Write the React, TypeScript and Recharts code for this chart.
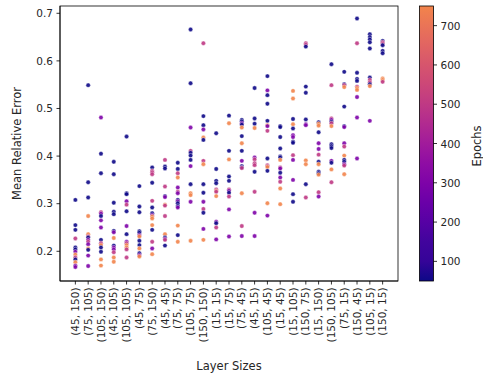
import React from 'react';
import { ScatterChart, Scatter, XAxis, YAxis } from 'recharts';

const layerSizes: string[] = [
  '(45, 150)', '(75, 105)', '(105, 150)', '(45, 105)', '(105, 105)', '(45, 75)', '(75, 150)',
  '(45, 45)', '(75, 75)', '(105, 75)', '(150, 150)', '(15, 15)', '(15, 75)', '(75, 45)',
  '(45, 15)', '(105, 45)', '(15, 45)', '(15, 105)', '(150, 75)', '(15, 150)', '(150, 105)',
  '(75, 15)', '(150, 45)', '(105, 15)', '(150, 15)',
];

const errors: number[][] = [
  [0.308, 0.255, 0.245, 0.227, 0.208, 0.204, 0.199, 0.193, 0.187, 0.183, 0.177, 0.170, 0.167],
  [0.549, 0.345, 0.313, 0.274, 0.236, 0.231, 0.229, 0.224, 0.220, 0.215, 0.206, 0.203, 0.191, 0.169],
  [0.481, 0.405, 0.364, 0.282, 0.279, 0.274, 0.265, 0.250, 0.224, 0.217, 0.213, 0.208, 0.199, 0.183, 0.170],
  [0.388, 0.362, 0.302, 0.283, 0.278, 0.243, 0.240, 0.228, 0.212, 0.208, 0.204, 0.198, 0.187, 0.178],
  [0.441, 0.322, 0.320, 0.305, 0.298, 0.284, 0.253, 0.236, 0.220, 0.217, 0.213, 0.208, 0.204, 0.187],
  [0.337, 0.294, 0.282, 0.242, 0.239, 0.234, 0.231, 0.222, 0.213, 0.206, 0.196, 0.192, 0.189],
  [0.376, 0.369, 0.366, 0.362, 0.344, 0.306, 0.292, 0.280, 0.276, 0.273, 0.269, 0.255, 0.245, 0.220, 0.206, 0.194],
  [0.392, 0.378, 0.374, 0.336, 0.316, 0.314, 0.298, 0.296, 0.274, 0.236, 0.229, 0.226, 0.224, 0.212],
  [0.386, 0.373, 0.364, 0.355, 0.334, 0.325, 0.322, 0.308, 0.305, 0.301, 0.295, 0.292, 0.254, 0.234, 0.220],
  [0.666, 0.553, 0.460, 0.411, 0.407, 0.401, 0.392, 0.379, 0.341, 0.322, 0.318, 0.304, 0.222],
  [0.637, 0.484, 0.465, 0.456, 0.439, 0.434, 0.390, 0.383, 0.341, 0.323, 0.304, 0.289, 0.281, 0.247, 0.224],
  [0.448, 0.373, 0.348, 0.343, 0.330, 0.327, 0.325, 0.316, 0.262, 0.259, 0.250, 0.225],
  [0.485, 0.469, 0.411, 0.393, 0.357, 0.348, 0.330, 0.327, 0.323, 0.315, 0.288, 0.231],
  [0.476, 0.473, 0.469, 0.466, 0.460, 0.442, 0.427, 0.411, 0.390, 0.379, 0.376, 0.375, 0.322, 0.253, 0.232],
  [0.543, 0.479, 0.468, 0.459, 0.397, 0.393, 0.385, 0.381, 0.367, 0.325, 0.281, 0.232],
  [0.568, 0.538, 0.528, 0.510, 0.474, 0.465, 0.463, 0.453, 0.395, 0.381, 0.379, 0.377, 0.369, 0.301, 0.275],
  [0.463, 0.461, 0.440, 0.416, 0.399, 0.397, 0.392, 0.376, 0.374, 0.365, 0.355, 0.346, 0.332, 0.299],
  [0.537, 0.521, 0.478, 0.467, 0.458, 0.444, 0.440, 0.430, 0.428, 0.402, 0.392, 0.350, 0.320, 0.304],
  [0.637, 0.634, 0.630, 0.546, 0.533, 0.477, 0.467, 0.465, 0.391, 0.383, 0.341, 0.313],
  [0.471, 0.468, 0.464, 0.450, 0.427, 0.415, 0.403, 0.388, 0.383, 0.367, 0.364, 0.361, 0.324, 0.315],
  [0.593, 0.549, 0.479, 0.476, 0.472, 0.469, 0.463, 0.425, 0.421, 0.417, 0.390, 0.386, 0.372, 0.345],
  [0.577, 0.551, 0.549, 0.545, 0.504, 0.463, 0.461, 0.427, 0.420, 0.401, 0.392, 0.388, 0.383, 0.380, 0.362],
  [0.689, 0.637, 0.575, 0.562, 0.558, 0.546, 0.543, 0.539, 0.524, 0.481, 0.395],
  [0.656, 0.650, 0.645, 0.639, 0.626, 0.565, 0.560, 0.555, 0.551, 0.547, 0.474],
  [0.642, 0.639, 0.636, 0.633, 0.621, 0.616, 0.563, 0.560, 0.556],
];

const epochs: number[][] = [
  [50, 50, 50, 500, 50, 50, 300, 750, 500, 50, 750, 300, 300],
  [50, 50, 50, 750, 750, 500, 50, 300, 500, 300, 750, 50, 300, 300],
  [300, 50, 50, 500, 300, 50, 300, 300, 50, 500, 750, 50, 50, 750, 750],
  [50, 50, 50, 50, 50, 50, 300, 750, 50, 300, 300, 500, 750, 750],
  [50, 50, 50, 300, 500, 50, 300, 50, 300, 500, 750, 750, 500, 500],
  [50, 50, 50, 50, 50, 300, 750, 50, 50, 750, 50, 300, 750],
  [50, 500, 500, 500, 50, 500, 50, 50, 300, 750, 750, 750, 50, 500, 300, 750],
  [500, 50, 50, 500, 50, 300, 750, 500, 500, 750, 50, 300, 500, 50],
  [50, 50, 500, 750, 300, 500, 300, 50, 300, 50, 50, 300, 750, 50, 750],
  [50, 50, 300, 500, 50, 50, 50, 300, 50, 750, 750, 300, 750],
  [500, 50, 50, 300, 750, 50, 500, 750, 50, 50, 300, 500, 50, 300, 750],
  [50, 50, 50, 50, 500, 750, 500, 750, 300, 50, 500, 300],
  [50, 750, 50, 750, 50, 50, 500, 300, 50, 500, 300, 300],
  [50, 50, 300, 50, 750, 50, 750, 50, 300, 50, 50, 500, 750, 500, 300],
  [50, 50, 50, 750, 300, 500, 500, 500, 50, 500, 300, 300],
  [50, 300, 50, 50, 50, 750, 300, 500, 50, 500, 500, 750, 50, 750, 300],
  [50, 50, 50, 50, 50, 50, 750, 500, 300, 50, 300, 500, 750, 750],
  [750, 750, 50, 750, 50, 300, 300, 50, 50, 500, 300, 300, 50, 50],
  [500, 500, 50, 50, 50, 50, 300, 300, 750, 750, 50, 500],
  [50, 750, 750, 50, 300, 300, 500, 50, 750, 50, 50, 750, 500, 300],
  [50, 500, 500, 300, 50, 500, 750, 50, 50, 50, 300, 50, 750, 500],
  [50, 50, 500, 750, 50, 50, 300, 300, 500, 750, 50, 50, 300, 500, 750],
  [50, 500, 50, 50, 50, 500, 750, 750, 300, 300, 300],
  [50, 50, 50, 50, 50, 50, 500, 500, 50, 750, 300],
  [50, 500, 500, 50, 50, 50, 750, 750, 500],
];

const yTicks: number[] = [0.2, 0.3, 0.4, 0.5, 0.6, 0.7];
const epochTicks: number[] = [100, 200, 300, 400, 500, 600, 700];
const epochMin = 50;
const epochMax = 750;

// plasma colormap samples (0 .. 0.7 used)
const plasma: string[] = [
  '#0d0887', '#350498', '#41049d', '#5601a4', '#6a00a8', '#7e03a8', '#8f0da4', '#a11b9b',
  '#b12a90', '#bf3984', '#cc4778', '#d6556d', '#e16462', '#ea7457', '#f2844b',
];

const hex = (c: string) => [1, 3, 5].map((i) => parseInt(c.slice(i, i + 2), 16));
const colorAt = (f: number) => {
  const p = Math.max(0, Math.min(1, f)) * (plasma.length - 1);
  const i = Math.min(plasma.length - 2, Math.floor(p));
  const t = p - i;
  const a = hex(plasma[i]);
  const b = hex(plasma[i + 1]);
  const m = a.map((v, k) => Math.round(v + (b[k] - v) * t));
  return `rgb(${m[0]},${m[1]},${m[2]})`;
};
const epochColor = (e: number) => colorAt((e - epochMin) / (epochMax - epochMin));

const points = errors.flatMap((row, i) =>
  row.map((v, j) => ({ x: i, y: v, epochs: epochs[i][Math.min(j, epochs[i].length - 1)] }))
);

const xTicks = layerSizes.map((_, i) => i);
const FONT = 'DejaVu Sans';
const TXT = '#262626';

const W = 483;
const H = 376;
const plot = { left: 60, right: 398, top: 6, bottom: 281 };
const cb = { x: 419.5, w: 14, top: 6, bottom: 281 };

const XTick = (props: any) => {
  const { x, y, payload } = props;
  return (
    <text
      x={x}
      y={y}
      transform={`rotate(-90, ${x}, ${y})`}
      textAnchor="end"
      dy="0.35em"
      fontSize={10.5}
      fill={TXT}
      fontFamily={FONT}
    >
      {layerSizes[payload.value]}
    </text>
  );
};

const Dot = (props: any) => {
  const { cx, cy, payload } = props;
  return (
    <circle cx={cx} cy={cy} r={2.2} fill={epochColor(payload.epochs)} fillOpacity={0.9} stroke="#ffffff" strokeWidth={0.4} />
  );
};

export default function App() {
  const cbY = (v: number) => cb.bottom - ((v - epochMin) / (epochMax - epochMin)) * (cb.bottom - cb.top);
  const stops = plasma.map((c, i) => ({ off: i / (plasma.length - 1), c }));
  return (
    <div style={{ position: 'absolute', left: 0, top: 0, width: W, height: H, background: '#fff' }}>
      <ScatterChart width={W} height={H} margin={{ top: plot.top, right: W - plot.right, bottom: 0, left: 0 }}>
        <XAxis
          type="number"
          dataKey="x"
          domain={[-1.2, 25.2]}
          ticks={xTicks}
          interval={0}
          allowDataOverflow
          height={H - plot.bottom}
          tickSize={3.5}
          tickMargin={3}
          tick={<XTick />}
          stroke="#000"
          axisLine={{ stroke: '#000', strokeWidth: 0.8 }}
          tickLine={{ stroke: '#000', strokeWidth: 0.8 }}
        />
        <YAxis
          type="number"
          dataKey="y"
          domain={[0.1376, 0.7153]}
          ticks={yTicks}
          allowDataOverflow
          width={plot.left}
          tickSize={3.5}
          tickMargin={3.5}
          tickFormatter={(v: number) => v.toFixed(1)}
          tick={{ fontSize: 10.5, fill: TXT, fontFamily: FONT }}
          axisLine={{ stroke: '#000', strokeWidth: 0.8 }}
          tickLine={{ stroke: '#000', strokeWidth: 0.8 }}
        />
        <Scatter data={points} isAnimationActive={false} shape={<Dot />} />
      </ScatterChart>
      <svg width={W} height={H} style={{ position: 'absolute', left: 0, top: 0, pointerEvents: 'none' }}>
        <defs>
          <linearGradient id="cbgrad" x1="0" y1="1" x2="0" y2="0">
            {stops.map((s, i) => (
              <stop key={i} offset={s.off} stopColor={s.c} />
            ))}
          </linearGradient>
        </defs>
        <rect
          x={plot.left}
          y={plot.top}
          width={plot.right - plot.left}
          height={plot.bottom - plot.top}
          fill="none"
          stroke="#000"
          strokeWidth={0.8}
        />
        <text x={(plot.left + plot.right) / 2} y={370} textAnchor="middle" fontSize={11.5} fill={TXT} fontFamily={FONT}>
          Layer Sizes
        </text>
        <text
          x={17}
          y={(plot.top + plot.bottom) / 2}
          transform={`rotate(-90, 17, ${(plot.top + plot.bottom) / 2})`}
          textAnchor="middle"
          dominantBaseline="central"
          fontSize={11.5}
          fill={TXT}
          fontFamily={FONT}
        >
          Mean Relative Error
        </text>
        <rect x={cb.x} y={cb.top} width={cb.w} height={cb.bottom - cb.top} fill="url(#cbgrad)" stroke="#000" strokeWidth={0.8} />
        {epochTicks.map((t) => (
          <g key={t}>
            <line x1={cb.x + cb.w} x2={cb.x + cb.w + 3.5} y1={cbY(t)} y2={cbY(t)} stroke="#000" strokeWidth={0.8} />
            <text x={cb.x + cb.w + 7} y={cbY(t)} dominantBaseline="central" fontSize={10.5} fill={TXT} fontFamily={FONT}>
              {t}
            </text>
          </g>
        ))}
        <text
          x={477}
          y={146}
          transform={`rotate(-90, 477, 146)`}
          textAnchor="middle"
          dominantBaseline="central"
          fontSize={11.5}
          fill={TXT}
          fontFamily={FONT}
        >
          Epochs
        </text>
      </svg>
    </div>
  );
}
